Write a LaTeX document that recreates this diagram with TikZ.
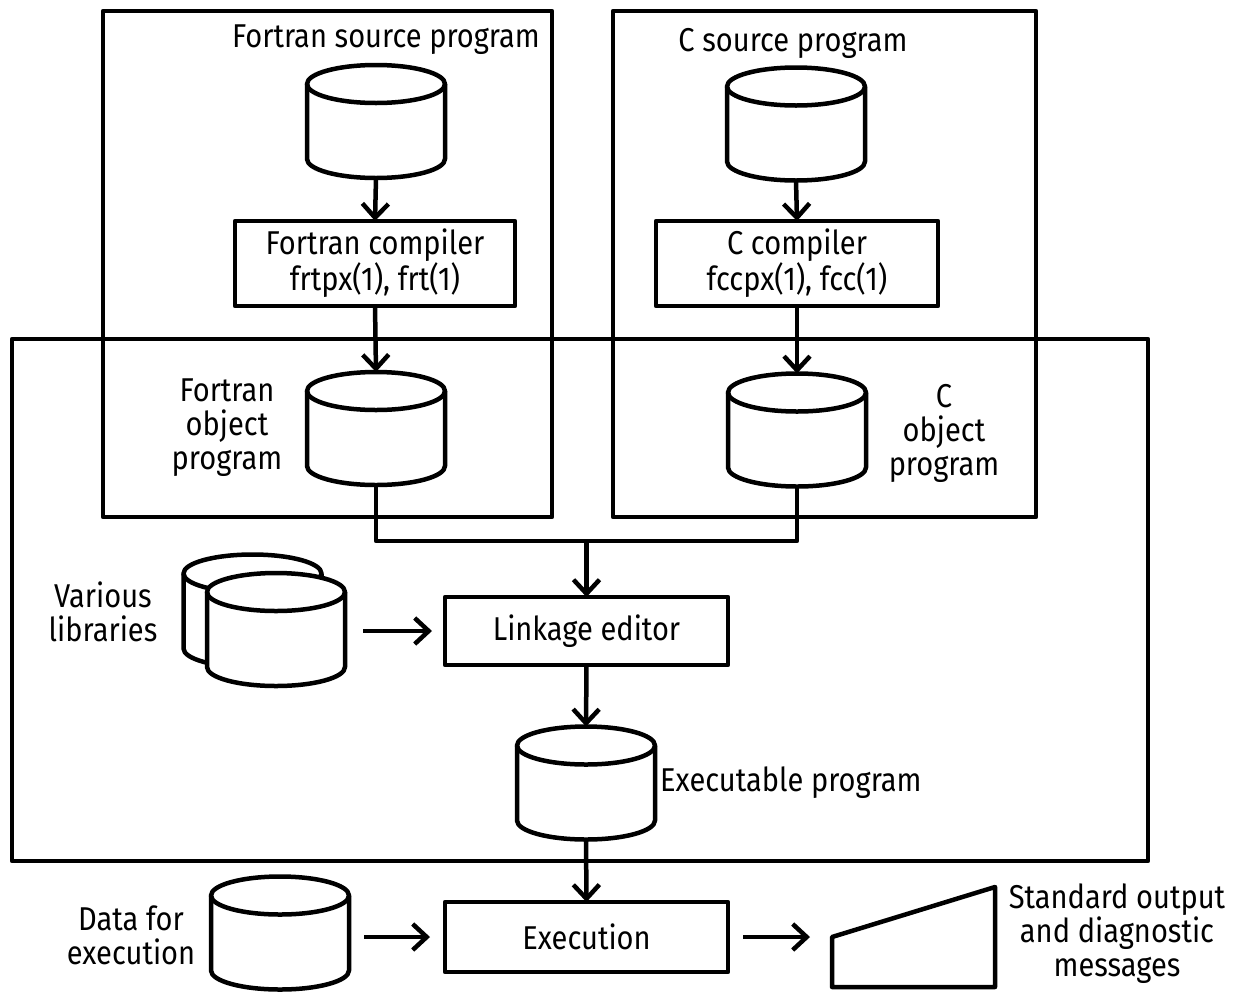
\documentclass[tikz,border=0pt]{standalone}
\usepackage{fontspec}
\setmainfont[FakeStretch=0.88]{Fira Sans}
\usetikzlibrary{arrows.meta,calc}

\tikzset{
  ln/.style={line width=4.5pt, line join=round},
  arr/.style={ln, -{Straight Barb[length=14pt,width=26pt,line width=4.5pt]}},
  frame/.style={ln, draw, inner sep=0pt, outer sep=0pt},
  stepbox/.style={ln, draw, fill=white, inner sep=0pt, outer sep=0pt, align=center},
  drum/.style={inner sep=0pt, outer sep=0pt, minimum width=138pt, minimum height=113pt},
  lbl/.style={align=center, inner sep=0pt},
}
\newcommand\drumshape[1]{%
  \fill[white] ($(#1.north west)+(0,19)$) -- ($(#1.south west)+(0,-19)$)
     arc[start angle=180,end angle=0,x radius=69,y radius=19]
     -- ($(#1.north east)+(0,19)$) arc[start angle=0,end angle=-180,x radius=69,y radius=19] -- cycle;
  \draw[ln] ($(#1.north)+(0,19)$) ellipse[x radius=69,y radius=19];
  \draw[ln] ($(#1.north west)+(0,19)$) -- ($(#1.south west)+(0,-19)$)
     arc[start angle=180,end angle=0,x radius=69,y radius=19]
     -- ($(#1.north east)+(0,19)$);
}

\begin{document}
\begin{tikzpicture}[x=1pt,y=-1pt,font=\fontsize{33}{34}\selectfont]
\useasboundingbox (0,0) rectangle (1236,991);

% group frames
\node[frame, minimum width=449pt, minimum height=506pt] (fframe) at (327.5,264) {};
\node[frame, minimum width=423pt, minimum height=506pt] (cframe) at (824.5,264) {};
\node[frame, minimum width=1136pt, minimum height=522pt] (lframe) at (580,600) {};

% storage drums
\node[drum] (fsrc) at (376,121.5) {};
\node[drum] (csrc) at (796,124) {};
\node[drum] (fobj) at (376,428.5) {};
\node[drum] (cobj) at (797,430) {};
\node[drum] (libb) at (252.5,611) {};
\node[drum] (libf) at (276,629.5) {};
\node[drum] (exe) at (586,783) {};
\node[drum] (data) at (280,933) {};
\foreach \d in {fsrc,csrc,fobj,cobj,libb,libf,exe,data} {\drumshape{\d}}

% processing steps
\node[stepbox, minimum width=280pt, minimum height=85pt] (fcomp) at (375,263.5)
  {Fortran compiler\\frtpx(1), frt(1)};
\node[stepbox, minimum width=282pt, minimum height=85pt] (ccomp) at (797,263.5)
  {C compiler\\fccpx(1), fcc(1)};
\node[stepbox, minimum width=283pt, minimum height=68pt] (link) at (586.5,631) {Linkage editor};
\node[stepbox, minimum width=283pt, minimum height=70pt] (run) at (586.5,937) {Execution};

% output medium
\node[inner sep=0pt, outer sep=0pt, minimum width=163pt, minimum height=100pt] (out) at (913.5,937) {};
\draw[ln] (out.south west) -- (out.west) -- (out.north east) -- (out.south east) -- cycle;

% labels
\node[lbl] (tfsrc) at (386,40) {Fortran source program};
\node[lbl] (tcsrc) at (793,43) {C source program};
\node[lbl] (tfobj) at (227,428) {Fortran\\object\\program};
\node[lbl] (tcobj) at (944,433) {C\\object\\program};
\node[lbl] (tlib) at (103,612) {Various\\libraries};
\node[lbl, anchor=west] (texe) at (660,783) {Executable program};
\node[lbl] (tdata) at (131,935) {Data for\\execution};
\node[lbl] (tout) at (1117,934) {Standard output\\and diagnostic\\messages};

% flow
\draw[arr] (fsrc.south) -- (fcomp.north);
\draw[arr] (csrc.south) -- (ccomp.north);
\draw[arr] (fcomp.south) -- (fobj.north);
\draw[arr] (ccomp.south) -- (cobj.north);
\coordinate (join) at (586.5,541);
\draw[ln] (fobj.south) |- (join) -| (cobj.south);
\draw[arr] (join) -- (link.north);
\draw[arr, shorten <=18pt, shorten >=13pt] (libf.east |- link.west) -- (link.west);
\draw[arr] (link.south) -- (exe.north);
\draw[arr] (exe.south) -- (run.north);
\draw[arr, shorten <=15pt, shorten >=15pt] (data.east |- run.west) -- (run.west);
\draw[arr, shorten <=15pt, shorten >=22pt] (run.east) -- (out.west);
\end{tikzpicture}
\end{document}
